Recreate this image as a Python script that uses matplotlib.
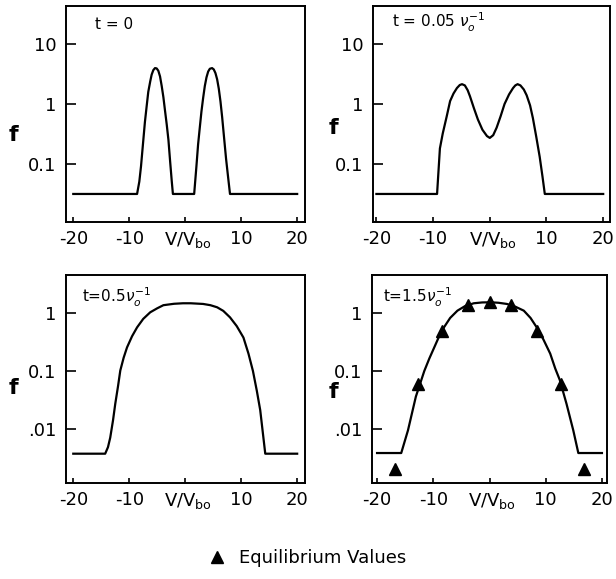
import matplotlib
matplotlib.use("Agg")
import matplotlib.pyplot as plt

plt.rcParams['font.family'] = ['DejaVu Sans']

# t = 0
v0 = [-20, -8.6, -8.2, -7.9, -7.5, -7.2, -6.9, -6.6, -6.25, -6.0, -5.7, -5.4, -5.1, -4.8, -4.5, -4.2,
      -3.9, -3.6, -3.3, -3.0, -2.7, -2.4, -2.2,
      1.6, 2.0, 2.3, 2.6, 2.9, 3.2, 3.5, 3.8, 4.1, 4.4, 4.8, 5.1, 5.4, 5.7, 6.0, 6.3, 6.6, 6.9,
      7.3, 7.7, 8.0, 20]
f0 = [0.031, 0.031, 0.05, 0.09, 0.24, 0.5, 0.9, 1.6, 2.4, 3.1, 3.7, 4.0, 3.95, 3.6, 2.9, 2.0,
      1.3, 0.76, 0.45, 0.25, 0.11, 0.05, 0.031,
      0.031, 0.09, 0.21, 0.4, 0.75, 1.26, 2.0, 2.8, 3.5, 3.9, 4.0, 3.8, 3.3, 2.6, 1.8, 1.1, 0.6, 0.3,
      0.12, 0.055, 0.031, 0.031]

# t = 0.05 / nu_0
v1 = [-20, -9.3, -8.8, -8.3, -7.6, -7.0, -6.4, -5.8, -5.3, -4.9, -4.4, -3.9, -3.5, -2.8, -2.1, -1.3,
      -0.5, 0, 0.6, 1.2, 1.9, 2.6, 3.4, 4.1, 4.5, 4.9, 5.4, 6.0, 6.5, 7.1, 7.6, 8.2, 8.8, 9.3, 9.7, 20]
f1 = [0.031, 0.031, 0.18, 0.32, 0.62, 1.12, 1.5, 1.85, 2.08, 2.15, 2.05, 1.7, 1.35, 0.85, 0.55, 0.37,
      0.29, 0.27, 0.3, 0.4, 0.62, 1.0, 1.45, 1.85, 2.05, 2.15, 2.05, 1.75, 1.4, 0.95, 0.58, 0.28, 0.13,
      0.06, 0.031, 0.031]

# t = 0.5 / nu_0
v2 = [-20, -14.3, -13.8, -13.4, -12.9, -12.5, -12.0, -11.6, -11.0, -10.4, -9.5, -8.6, -7.5, -6.25,
      -5.0, -3.9, -2.0, -0.4, 1.0, 3.2, 4.5, 5.7, 6.8, 8.0, 9.2, 10.4, 11.3, 12.1, 12.8, 13.4, 13.9, 14.3, 20]
f2 = [0.0037, 0.0037, 0.0048, 0.007, 0.014, 0.027, 0.055, 0.102, 0.17, 0.256, 0.4, 0.57, 0.8, 1.04,
      1.22, 1.38, 1.46, 1.49, 1.49, 1.45, 1.38, 1.27, 1.1, 0.85, 0.6, 0.38, 0.2, 0.10, 0.045, 0.021,
      0.008, 0.0037, 0.0037]

# t = 1.5 / nu_0
v3 = [-20, -15.7, -14.5, -13.1, -11.6, -10.7, -9.8, -9.0, -8.1, -7.0, -5.7, -4.3, -2.8, -1.3, 0.2,
      1.6, 3.1, 4.6, 6.1, 7.3, 8.4, 9.6, 10.8, 11.7, 12.5, 13.7, 14.9, 15.8, 20]
f3 = [0.0038, 0.0038, 0.0094, 0.036, 0.10, 0.165, 0.26, 0.39, 0.57, 0.83, 1.11, 1.34, 1.49, 1.54, 1.55,
      1.52, 1.45, 1.3, 1.11, 0.83, 0.57, 0.35, 0.20, 0.11, 0.07, 0.027, 0.0094, 0.0038, 0.0038]

# equilibrium values
v_eq = [-16.8, -12.8, -8.4, -3.9, 0, 3.9, 8.4, 12.8, 16.8]
f_eq = [0.002, 0.06, 0.5, 1.4, 1.55, 1.4, 0.5, 0.06, 0.002]

labels = ['t = 0', r't = 0.05 $\nu_o^{-1}$', r't=0.5$\nu_o^{-1}$', r't=1.5$\nu_o^{-1}$']
top_yticks = [0.1, 1, 10]
top_ylabels = ['0.1', '1', '10']
bot_yticks = [0.01, 0.1, 1]
bot_ylabels = ['.01', '0.1', '1']
xticks = [-20, -10, 0, 10, 20]
xticklabels = ['-20', '-10', '', '10', '20']

W, H = 616, 579
fig = plt.figure(figsize=(W / 100, H / 100), dpi=100)


def make_ax(l, r, t, b):
    return fig.add_axes([l / W, 1 - b / H, (r - l) / W, (b - t) / H])


# pixel boxes: left, right, top, bottom
axs = [make_ax(66, 305, 6, 222), make_ax(373, 610, 6, 222),
       make_ax(66, 305, 275, 483), make_ax(372, 607, 275, 483)]
xlims = [(-21.3, 21.4), (-20.6, 21.2), (-21.3, 21.4), (-20.9, 20.9)]
ylims = [(0.0105, 44), (0.0105, 44), (0.00115, 4.6), (0.00115, 4.6)]
curves = [(v0, f0), (v1, f1), (v2, f2), (v3, f3)]
txt_pos = [(0.12, 0.915), (0.08, 0.925), (0.067, 0.89), (0.047, 0.89)]

for i, ax in enumerate(axs):
    v, f = curves[i]
    ax.plot(v, f, color='black', lw=1.6, solid_joinstyle='round')
    ax.set_yscale('log')
    ax.set_xlim(*xlims[i])
    ax.set_ylim(*ylims[i])
    ax.minorticks_off()
    if i < 2:
        ax.set_yticks(top_yticks)
        ax.set_yticklabels(top_ylabels)
    else:
        ax.set_yticks(bot_yticks)
        ax.set_yticklabels(bot_ylabels)
    ax.set_xticks(xticks)
    ax.set_xticklabels(xticklabels)
    ax.tick_params(axis='y', direction='in', length=7, width=1.2, pad=7, labelsize=13)
    ax.tick_params(axis='x', direction='in', length=3.5, width=1.2, pad=6, labelsize=13)
    for s in ax.spines.values():
        s.set_linewidth(1.4)
    ax.text(txt_pos[i][0], txt_pos[i][1], labels[i], transform=ax.transAxes,
            fontsize=11, va='center', ha='left')
    ax.annotate(r'$\mathregular{V/V_{bo}}$', xy=(0.5, 0), xycoords=('data', 'axes fraction'),
                xytext=(0, -6), textcoords='offset points', ha='center', va='top', fontsize=13)

tri, = axs[3].plot(v_eq, f_eq, linestyle='none', marker='^', color='black', markersize=9)

# "f" axis labels
for x, y in [(13, 135), (333, 128), (13, 388), (333, 392)]:
    fig.text(x / W, 1 - y / H, 'f', fontsize=16, fontweight='bold', ha='center', va='center')

fig.legend(handles=[tri], labels=['Equilibrium Values'], loc='center',
           bbox_to_anchor=(0.5, 1 - 558 / H), frameon=False, handlelength=0.8,
           handletextpad=0.8, fontsize=13)

fig.savefig('out.png', dpi=100)
